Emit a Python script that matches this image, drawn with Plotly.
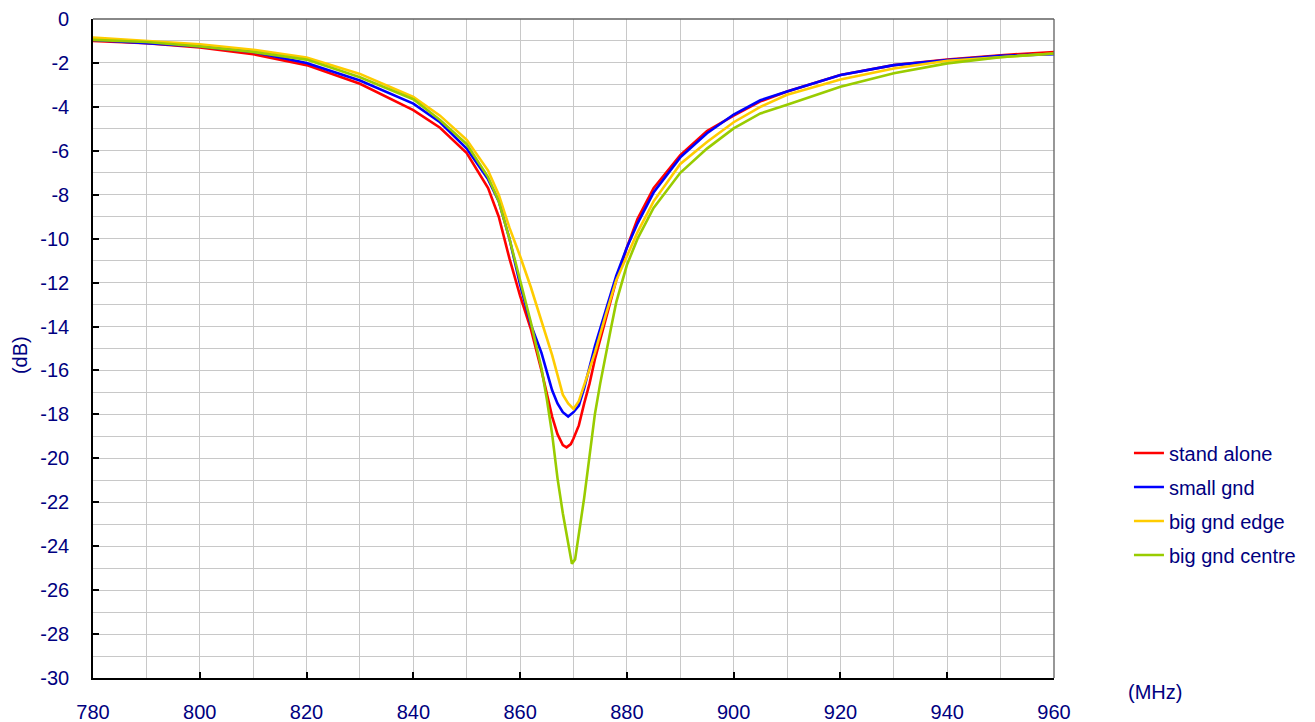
import plotly.graph_objects as go

# ---------------- data ----------------
freq_red = [780, 790, 800, 810, 820, 830, 840, 845, 850, 854, 856, 858, 860, 862, 864, 866, 867, 868, 868.7,
            869.5, 870, 871, 872, 873, 874, 876, 878, 880, 882, 885, 890, 895, 900, 905, 910, 920, 930, 940, 950, 960]
db_red = [-1.0, -1.1, -1.3, -1.6, -2.1, -2.95, -4.15, -4.95, -6.1, -7.7, -9.0, -10.9, -12.6, -14.1, -16.0, -18.1, -18.9,
          -19.4, -19.5, -19.35, -19.1, -18.5, -17.5, -16.6, -15.5, -13.7, -11.9, -10.4, -9.1, -7.7, -6.2, -5.1, -4.4,
          -3.75, -3.3, -2.55, -2.1, -1.85, -1.65, -1.5]

freq_blue = [780, 790, 800, 810, 820, 830, 840, 845, 850, 854, 856, 858, 860, 862, 864, 866, 867, 868, 869,
             870, 871, 872, 873, 874, 876, 878, 880, 882, 885, 890, 895, 900, 905, 910, 920, 930, 940, 950, 960]
db_blue = [-0.95, -1.1, -1.25, -1.5, -2.0, -2.8, -3.85, -4.7, -5.9, -7.3, -8.3, -10.0, -12.1, -13.9, -15.2, -16.9,
           -17.5, -17.9, -18.1, -17.9, -17.6, -16.8, -15.8, -14.9, -13.3, -11.7, -10.4, -9.3, -7.9, -6.3, -5.2,
           -4.35, -3.7, -3.3, -2.55, -2.1, -1.87, -1.68, -1.6]

freq_yellow = [780, 790, 800, 810, 820, 830, 840, 845, 850, 854, 856, 858, 860, 862, 864, 866, 867, 868, 869,
               870, 871, 872, 873, 874, 876, 878, 880, 882, 885, 890, 895, 900, 905, 910, 920, 930, 940, 950, 960]
db_yellow = [-0.85, -1.0, -1.15, -1.4, -1.75, -2.5, -3.55, -4.4, -5.5, -6.9, -8.0, -9.5, -10.8, -12.2, -13.7, -15.3,
             -16.2, -17.1, -17.5, -17.75, -17.4, -16.7, -15.9, -15.2, -13.5, -11.9, -10.8, -9.7, -8.3, -6.6, -5.6,
             -4.7, -4.0, -3.45, -2.75, -2.25, -1.9, -1.72, -1.57]

freq_green = [780, 790, 800, 810, 820, 830, 840, 845, 850, 854, 856, 858, 860, 862, 864, 865, 866, 867, 868, 869,
              869.7, 870.3, 871, 872, 873, 874, 875, 876, 877, 878, 880, 882, 885, 890, 895, 900, 905, 910, 920, 930,
              940, 950, 960]
db_green = [-0.95, -1.05, -1.25, -1.5, -1.85, -2.65, -3.65, -4.6, -5.7, -7.2, -8.3, -10.0, -11.9, -13.8, -15.9, -17.3,
            -18.9, -20.9, -22.5, -23.8, -24.8, -24.6, -23.5, -21.8, -19.9, -18.0, -16.6, -15.3, -14.1, -12.9, -11.2,
            -10.0, -8.6, -7.0, -5.9, -4.98, -4.3, -3.9, -3.08, -2.47, -2.02, -1.74, -1.57]

series_names = ["stand alone", "small gnd", "big gnd edge", "big gnd centre"]
series_colors = ["#ff0000", "#0000ff", "#ffcc00", "#99cc00"]

x_ticks = [780, 800, 820, 840, 860, 880, 900, 920, 940, 960]
y_ticks = list(range(-30, 1, 2))

TXT = "#000080"
FONT = "Liberation Sans, Arial, sans-serif"

fig = go.Figure()
for name, color, xs, ys in zip(series_names, series_colors,
                               [freq_red, freq_blue, freq_yellow, freq_green],
                               [db_red, db_blue, db_yellow, db_green]):
    fig.add_trace(go.Scatter(x=xs, y=ys, mode="lines", name=name, legendgroup=name,
                             line=dict(color=color, width=2.6)))

fig.update_layout(
    width=1307, height=714,
    margin=dict(l=85, r=261, t=11, b=44, autoexpand=False),
    paper_bgcolor="white", plot_bgcolor="white",
    font=dict(family=FONT, size=20, color=TXT),
    legend=dict(x=1.078, y=0.264, xanchor="left", yanchor="middle",
                font=dict(size=20, color=TXT), tracegroupgap=5,
                bgcolor="rgba(0,0,0,0)"),
    showlegend=True,
)

fig.update_xaxes(
    range=[780, 960], tickvals=x_ticks, ticktext=[str(v) for v in x_ticks],
    ticks="inside", ticklen=6, tickcolor="black", tickwidth=1.5,
    showline=True, linecolor="black", linewidth=1.6,
    showgrid=True, gridcolor="#c8c8c8", gridwidth=1.3,
    minor=dict(dtick=10, tick0=780, showgrid=True, gridcolor="#c8c8c8", gridwidth=1.3),
    ticklabelstandoff=15, zeroline=False, automargin=False,
    tickfont=dict(size=20, color=TXT),
)
fig.update_yaxes(
    range=[-30, 0], tickvals=y_ticks, ticktext=[str(v) for v in y_ticks],
    ticks="inside", ticklen=6, tickcolor="black", tickwidth=1.5,
    showline=True, linecolor="black", linewidth=1.6,
    showgrid=True, gridcolor="#c8c8c8", gridwidth=1.3,
    minor=dict(dtick=1, tick0=0, showgrid=True, gridcolor="#c8c8c8", gridwidth=1.3),
    ticklabelstandoff=18, zeroline=False, automargin=False,
    tickfont=dict(size=20, color=TXT),
)

# top and right frame lines
fig.add_shape(type="line", xref="paper", yref="paper", x0=0, x1=1, y0=1, y1=1,
              line=dict(color="#606060", width=1.3))
fig.add_shape(type="line", xref="paper", yref="paper", x0=1, x1=1, y0=0, y1=1,
              line=dict(color="#606060", width=1.3))

fig.add_annotation(text="(MHz)", xref="paper", yref="paper", x=1.105, y=-0.021,
                   xanchor="center", yanchor="middle", showarrow=False,
                   font=dict(size=20, color=TXT))
fig.add_annotation(text="(dB)", xref="paper", yref="paper", x=-0.076, y=0.49,
                   xanchor="center", yanchor="middle", showarrow=False, textangle=-90,
                   font=dict(size=20, color=TXT))

fig.write_html("out.html")
